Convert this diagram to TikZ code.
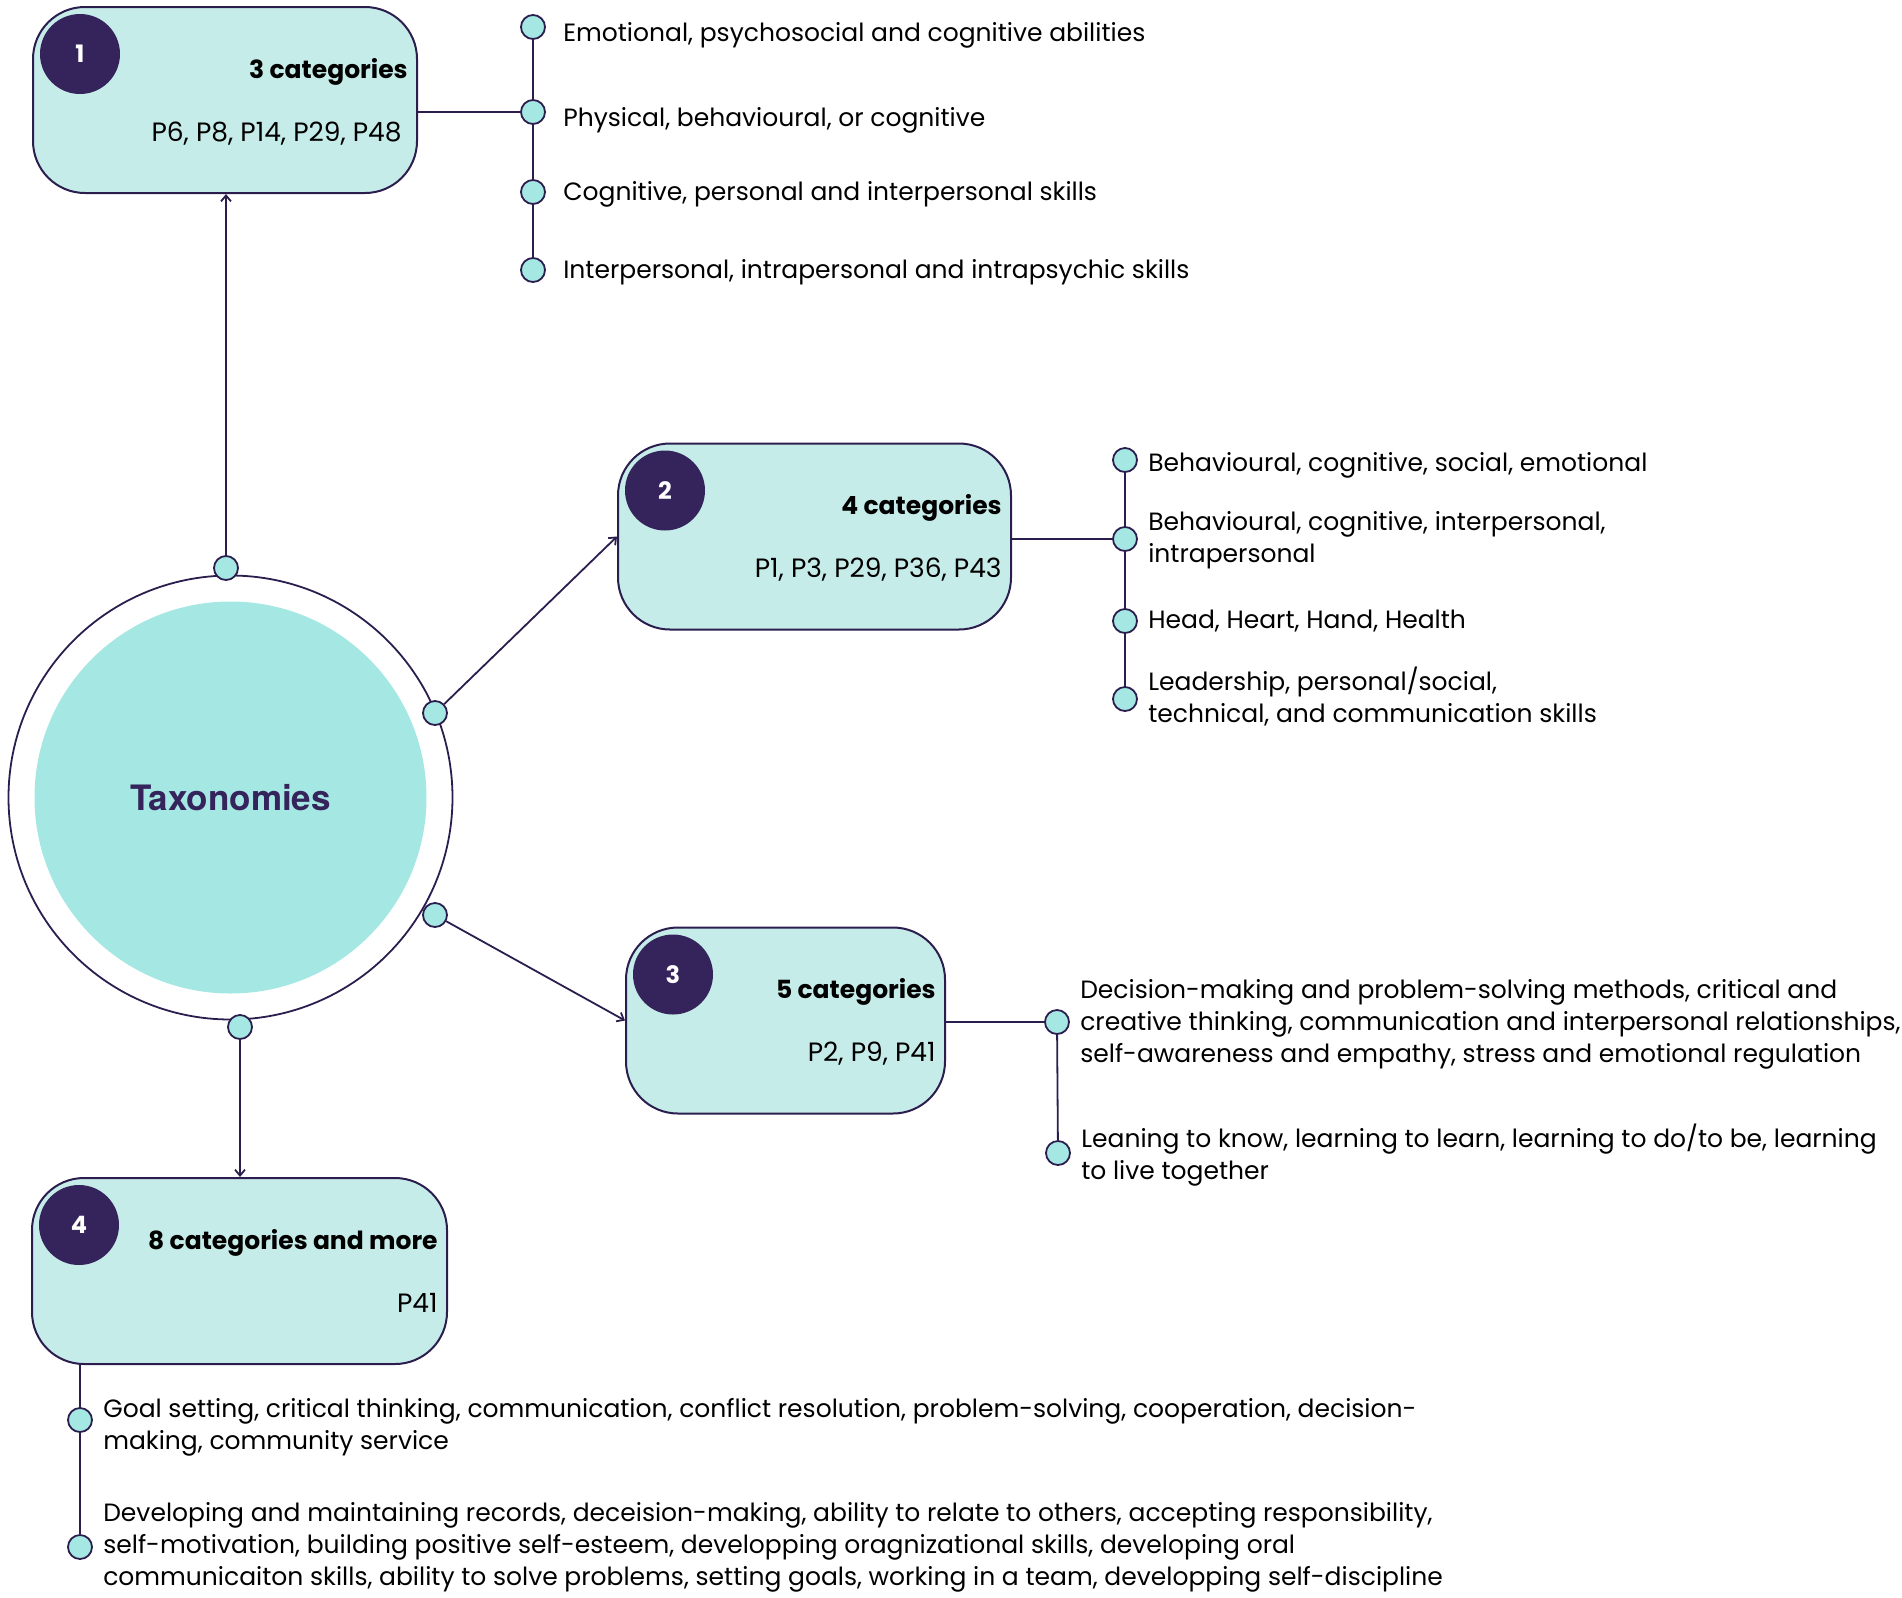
\documentclass[tikz,border=0pt]{standalone}
\usepackage{fontspec}
\setmainfont{Poppins}
\newfontfamily\hubfont{TeX Gyre Heros}
\usetikzlibrary{positioning,arrows.meta,backgrounds}

\definecolor{ink}{HTML}{2B1E4E}
\definecolor{plum}{HTML}{35235B}
\definecolor{mint}{HTML}{C6ECE9}
\definecolor{aqua}{HTML}{A5E7E2}

\tikzset{
    catbox/.style={draw=ink, line width=1pt, fill=mint, rounded corners=26pt, minimum height=93pt},
    badge/.style={circle, fill=plum, minimum size=40pt, inner sep=0pt, text=white, font=\bfseries\fontsize{12pt}{14pt}\selectfont},
    cattitle/.style={anchor=base east, inner sep=0pt, font=\bfseries\fontsize{12.5pt}{15pt}\selectfont},
    catrefs/.style={anchor=base east, inner sep=0pt, font=\fontsize{13.25pt}{15pt}\selectfont},
    bullet/.style={circle, draw=ink, line width=0.9pt, fill=aqua, minimum size=12pt, inner sep=0pt},
    item/.style={anchor=west, inner sep=0pt, align=left, font=\fontsize{12.5pt}{16pt}\selectfont},
    link/.style={draw=ink, line width=0.9pt},
    feed/.style={link, -{Straight Barb[length=3pt,width=5pt]}},
}

\begin{document}
\begin{tikzpicture}[x=0.5pt, y=-0.5pt]
        \useasboundingbox (0,0) rectangle (1902,1597);
        %central circle
        \node[circle, draw=ink, line width=0.9pt, minimum size=222pt, inner sep=0pt] (hub) at (230.5,797.5) {};
        \node[circle, fill=aqua, minimum size=196pt, inner sep=0pt, text=plum, font=\hubfont\bfseries\fontsize{17.5pt}{20pt}\selectfont] (core) at (hub) {Taxonomies};
        \node[bullet] (hubN) at (226,568) {};
        \node[bullet] (hubNE) at (435,713) {};
        \node[bullet] (hubSE) at (435,915) {};
        \node[bullet] (hubS) at (240,1027) {};
        %category boxes
        \node[catbox, minimum width=192pt] (cat1) at (225,100) {};
        \node[badge] (n1) at ([xshift=24pt,yshift=-24pt]cat1.north west) {1};
        \node[cattitle] (t1) at ([xshift=-5pt,yshift=-36pt]cat1.north east) {3 categories};
        \node[catrefs] (r1) at ([xshift=-8pt,yshift=-67.5pt]cat1.north east) {P6, P8, P14, P29, P48};
        \node[catbox, minimum width=196.5pt] (cat2) at (814.5,536.5) {};
        \node[badge] (n2) at ([xshift=24pt,yshift=-24pt]cat2.north west) {2};
        \node[cattitle] (t2) at ([xshift=-5pt,yshift=-36pt]cat2.north east) {4 categories};
        \node[catrefs] (r2) at ([xshift=-5pt,yshift=-67.5pt]cat2.north east) {P1, P3, P29, P36, P43};
        \node[catbox, minimum width=159.5pt] (cat3) at (785.5,1020.5) {};
        \node[badge] (n3) at ([xshift=24pt,yshift=-24pt]cat3.north west) {3};
        \node[cattitle] (t3) at ([xshift=-5pt,yshift=-36pt]cat3.north east) {5 categories};
        \node[catrefs] (r3) at ([xshift=-5pt,yshift=-67.5pt]cat3.north east) {P2, P9, P41};
        \node[catbox, minimum width=207.5pt] (cat4) at (239.5,1271) {};
        \node[badge] (n4) at ([xshift=24pt,yshift=-24pt]cat4.north west) {4};
        \node[cattitle] (t4) at ([xshift=-5pt,yshift=-36pt]cat4.north east) {8 categories and more};
        \node[catrefs] (r4) at ([xshift=-5pt,yshift=-67.5pt]cat4.north east) {P41};
        %arrows from the circle
        \draw[feed] (hubN) -- (hubN |- cat1.south);
        \draw[feed] (hubNE) -- (cat2.west);
        \draw[feed] (hubSE) -- (cat3.west);
        \draw[feed] (hubS) -- (hubS |- cat4.north);
        %list of box 1
        \node[bullet] (a1) at (533,27) {};
        \node[bullet] (a2) at (533,112) {};
        \node[bullet] (a3) at (533,192) {};
        \node[bullet] (a4) at (533,270) {};
        \node[item, right=8.5pt of a1, yshift=-4pt] (a1t) {Emotional, psychosocial and cognitive abilities};
        \node[item, right=8.5pt of a2, yshift=-4pt] (a2t) {Physical, behavioural, or cognitive};
        \node[item, right=8.5pt of a3, yshift=-1pt] (a3t) {Cognitive, personal and interpersonal skills};
        \node[item, right=8.5pt of a4, yshift=-1pt] (a4t) {Interpersonal, intrapersonal and intrapsychic skills};
        %list of box 2
        \node[bullet] (b1) at (1125,460) {};
        \node[bullet] (b2) at (1125,539) {};
        \node[bullet] (b3) at (1125,621) {};
        \node[bullet] (b4) at (1125,699) {};
        \node[item, right=5pt of b1, yshift=-2.5pt] (b1t) {Behavioural, cognitive, social, emotional};
        \node[item, right=5pt of b2, yshift=-0.5pt] (b2t) {Behavioural, cognitive, interpersonal,\\intrapersonal};
        \node[item, right=5pt of b3] (b3t) {Head, Heart, Hand, Health};
        \node[item, right=5pt of b4, yshift=1.5pt] (b4t) {Leadership, personal/social,\\technical, and communication skills};
        %list of box 3
        \node[bullet] (c1) at (1057,1022) {};
        \node[bullet] (c2) at (1058,1153) {};
        \node[item, right=5pt of c1, yshift=-1pt] (c1t) {Decision-making and problem-solving methods, critical and\\creative thinking, communication and interpersonal relationships,\\self-awareness and empathy, stress and emotional regulation};
        \node[item, right=5pt of c2, yshift=-1pt] (c2t) {Leaning to know, learning to learn, learning to do/to be, learning\\to live together};
        %list of box 4
        \node[bullet] (d1) at (80,1420) {};
        \node[bullet] (d2) at (80,1547) {};
        \node[item, right=5pt of d1, yshift=-3.5pt] (d1t) {Goal setting, critical thinking, communication, conflict resolution, problem-solving, cooperation, decision-\\making, community service};
        \node[item, right=5pt of d2] (d2t) {Developing and maintaining records, deceision-making, ability to relate to others, accepting responsibility,\\self-motivation, building positive self-esteem, developping oragnizational skills, developing oral\\communicaiton skills, ability to solve problems, setting goals, working in a team, developping self-discipline};
        %tree lines
        \begin{scope}[on background layer]
            \draw[link] (a1) -- (a4);
            \draw[link] (cat1.east |- a2) -- (a2);
            \draw[link] (b1) -- (b4);
            \draw[link] (cat2.east |- b2) -- (b2);
            \draw[link] (c1) -- (c2);
            \draw[link] (cat3.east |- c1) -- (c1);
            \draw[link] (cat4.south -| d1) -- (d2);
        \end{scope}
    \end{tikzpicture}
\end{document}
